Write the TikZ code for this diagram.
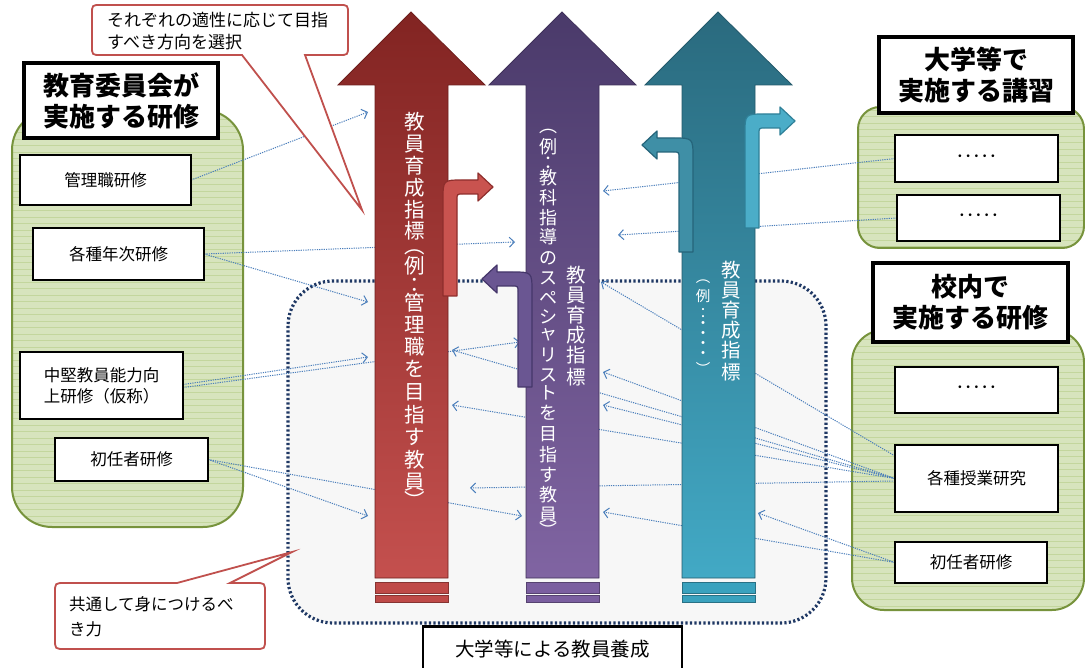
\documentclass[tikz,border=0pt]{standalone}
\usepackage{fontspec}
\setmainfont{Noto Sans CJK JP}
\usetikzlibrary{arrows.meta}
\definecolor{gfill}{HTML}{D7E4BD}
\definecolor{gline}{HTML}{C3D69D}
\definecolor{gborder}{HTML}{77933C}
\definecolor{cred}{HTML}{C0504D}
\definecolor{connc}{HTML}{4A7EBB}
\definecolor{dotb}{HTML}{1F3864}
\definecolor{rtop}{HTML}{822422}
\definecolor{rbot}{HTML}{C4504E}
\definecolor{rstr}{HTML}{BF4A48}
\definecolor{ptop}{HTML}{4A3A6A}
\definecolor{pbot}{HTML}{8064A2}
\definecolor{pstr}{HTML}{7B5FA0}
\definecolor{ttop}{HTML}{2A6A7E}
\definecolor{tbot}{HTML}{42A9C5}
\definecolor{tstr}{HTML}{3AA2BE}
\definecolor{bentred}{HTML}{C9534F}
\definecolor{bentredd}{HTML}{8E2E2C}
\definecolor{bentpur}{HTML}{6A5692}
\definecolor{bentpurd}{HTML}{45366A}
\definecolor{benttl}{HTML}{3F8FA6}
\definecolor{benttld}{HTML}{25647A}
\definecolor{benttr}{HTML}{4BADC8}
\definecolor{benttrd}{HTML}{2F8098}
\tikzset{
  ibox/.style={draw=black, line width=2pt, fill=white, inner sep=0pt, align=center,
    font=\fontsize{16.5}{21}\selectfont},
  tbox/.style={draw=black, line width=3.5pt, fill=white, inner sep=0pt, align=center,
    font=\bfseries\fontsize{26}{31}\selectfont},
  calloutline/.style={draw=cred, line width=1.8pt, fill=white, line join=miter},
  connl/.style={draw=connc, line width=1pt, dash pattern=on 1.2pt off 1.1pt,
    -{Straight Barb[length=5pt,width=10pt]}},
  vch/.style={text=white, inner sep=0pt},
  regionfill/.style={fill=black!3, rounded corners=45pt},
  regionline/.style={draw=dotb, line width=3.2pt, dash pattern=on 2.2pt off 2.3pt, rounded corners=45pt},
}
% green panel: x1 y1 x2 y2 radius
\newcommand\gpanel[5]{%
  \begin{scope}
    \clip[rounded corners=#5] (#1,#2) rectangle (#3,#4);
    \fill[gfill] (#1,#2) rectangle (#3,#4);
    \foreach \k in {0,...,66} \draw[gline, line width=0.7pt] (#1,{#2+3+\k*6.5}) -- (#3,{#2+3+\k*6.5});
  \end{scope}
  \draw[gborder, line width=2pt, rounded corners=#5] (#1,#2) rectangle (#3,#4);}
% big arrow: xl xr cx top bottom stripe
\newcommand\bigarr[6]{%
  \shadedraw[top color=#4, bottom color=#5, draw=#4!85!black, line width=0.8pt]
    (#1,578) -- (#1,85) -- ({#3-73},85) -- (#3,12) -- ({#3+74},85) -- (#2,85) -- (#2,578) -- cycle;
  \filldraw[fill=#6, draw=#6!70!black, line width=0.6pt] (#1,582.5) rectangle (#2,593);
  \filldraw[fill=#6, draw=#6!70!black, line width=0.6pt] (#1,595.5) rectangle (#2,602);}
% bent arrow to the right: cx yb yh xt fill draw
\newcommand\bentR[6]{%
  \filldraw[fill=#5, draw=#6, line width=1.2pt, line join=round]
    ({#1-7},#2) -- ({#1-7},{#3+13}) .. controls ({#1-7},{#3-7}) .. ({#1+13},{#3-7})
    -- ({#4-15},{#3-7}) -- ({#4-15},{#3-14}) -- (#4,#3) -- ({#4-15},{#3+14}) -- ({#4-15},{#3+7})
    -- ({#1+13},{#3+7}) .. controls ({#1+7},{#3+7}) .. ({#1+7},{#3+13}) -- ({#1+7},#2) -- cycle;}
% bent arrow to the left
\newcommand\bentL[6]{%
  \filldraw[fill=#5, draw=#6, line width=1.2pt, line join=round]
    ({#1+7},#2) -- ({#1+7},{#3+13}) .. controls ({#1+7},{#3-7}) .. ({#1-13},{#3-7})
    -- ({#4+15},{#3-7}) -- ({#4+15},{#3-14}) -- (#4,#3) -- ({#4+15},{#3+14}) -- ({#4+15},{#3+7})
    -- ({#1-13},{#3+7}) .. controls ({#1-7},{#3+7}) .. ({#1-7},{#3+13}) -- ({#1-7},#2) -- cycle;}
\begin{document}
\begin{tikzpicture}[x=1pt,y=-1pt]
\useasboundingbox (0,0) rectangle (1085,668);
\clip (0,0) rectangle (1085,668);
\fill[white] (0,0) rectangle (1085,668);

% green panels
\gpanel{12}{110}{243}{527}{40}
\gpanel{858}{107}{1084}{248}{22}
\gpanel{852}{330}{1084}{610}{32}

% common region
\fill[regionfill] (288,281) rectangle (826,623);
\draw[regionline] (288,281) rectangle (826,623);

% anchors of the boxes (the boxes are drawn on top further below)
\path (105.5,180) node[minimum width=171pt, minimum height=50pt, inner sep=0pt] (kanri) {};
\path (118.5,254) node[minimum width=171pt, minimum height=52pt, inner sep=0pt] (nenji) {};
\path (101.5,385.5) node[minimum width=163pt, minimum height=67pt, inner sep=0pt] (chuken) {};
\path (131.5,459.5) node[minimum width=153pt, minimum height=43pt, inner sep=0pt] (shonin) {};
\path (976.5,158.5) node[minimum width=163pt, minimum height=47pt, inner sep=0pt] (d1) {};
\path (978.5,218) node[minimum width=163pt, minimum height=46pt, inner sep=0pt] (d2) {};
\path (976.5,478.5) node[minimum width=163pt, minimum height=67pt, inner sep=0pt] (jugyo) {};
\path (971,562.5) node[minimum width=152pt, minimum height=41pt, inner sep=0pt] (shonin2) {};

% connector targets
\coordinate (t1) at (368,112);
\coordinate (t2) at (515,242);
\coordinate (t3) at (368,302);
\coordinate (t4) at (368,357);
\coordinate (t5) at (520,342);
\coordinate (t6) at (368,516);
\coordinate (t7) at (522,516);
\coordinate (u1) at (603,191);
\coordinate (u2) at (618,235);
\coordinate (u3) at (601,282);
\coordinate (u4) at (452,350);
\coordinate (u5) at (603,372);
\coordinate (u6) at (452,405);
\coordinate (u7) at (603,405);
\coordinate (u8) at (470,488);
\coordinate (u9) at (603,512);
\coordinate (u10) at (758,513);
\coordinate (js) at (895,456);
\coordinate (jh) at (895,481);

% connectors
\draw[connl] (kanri.east) -- (t1);
\draw[connl] (nenji.east) -- (t2);
\draw[connl] (nenji.east) -- (t3);
\draw[connl] ([yshift=1pt]chuken.east) -- (t4);
\draw[connl] ([yshift=-2pt]chuken.east) -- (t5);
\draw[connl] (shonin.east) -- (t6);
\draw[connl] (shonin.east) -- (t7);
\draw[connl] (d1.west) -- (u1);
\draw[connl] (d2.west) -- (u2);
\draw[connl] (js) -- (u3);
\draw[connl] (jugyo.west) -- (u4);
\draw[connl] (jugyo.west) -- (u5);
\draw[connl] (jugyo.west) -- (u6);
\draw[connl] (jugyo.west) -- (u7);
\draw[connl] (jh) -- (u8);
\draw[connl] (shonin2.west) -- (u9);
\draw[connl] (shonin2.west) -- (u10);

% big arrows
\bigarr{375}{448}{411}{rtop}{rbot}{rstr}
\bigarr{526}{599}{562}{ptop}{pbot}{pstr}
\bigarr{682}{755}{718}{ttop}{tbot}{tstr}

% bent arrows
\bentR{450}{296}{187}{493}{bentred}{bentredd}
\bentL{525}{387}{279}{482}{bentpur}{bentpurd}
\bentL{686}{252}{145}{642}{benttl}{benttld}
\bentR{752}{228}{121}{795}{benttr}{benttrd}

% vertical texts
\foreach \c/\y [count=\i] in {教/122,員/144,育/166,成/188,指/210,標/231,︵/252,例/266,：/285,管/303,理/325,職/347,を/369,目/392,指/415,す/437,教/460,員/482,︶/500}
  \node[vch, font=\fontsize{20.5}{20.5}\selectfont] (rv\i) at (415,\y) {\c};
\foreach \c/\y [count=\i] in {︵/132,例/147,：/163,教/178,科/198,指/218,導/237,の/258,ス/278,ペ/298,シ/317,ャ/335,リ/355,ス/375,ト/393,を/413,目/434,指/455,す/475,教/495,員/515,︶/530}
  \node[vch, font=\fontsize{18}{18}\selectfont] (pv\i) at (548,\y) {\c};
\foreach \c/\y [count=\i] in {教/275,員/295,育/315,成/335,指/355,標/377}
  \node[vch, font=\fontsize{19.5}{19.5}\selectfont] (pw\i) at (576,\y) {\c};
\foreach \c/\y [count=\i] in {教/270,員/290,育/310,成/330,指/350,標/372}
  \node[vch, font=\fontsize{19.5}{19.5}\selectfont] (tv\i) at (731,\y) {\c};
\foreach \c/\y [count=\i] in {︵/282,例/296,：/313,・/325,・/335,・/345,・/355,︶/368}
  \node[vch, font=\fontsize{14.5}{14.5}\selectfont] (tw\i) at (703,\y) {\c};

% boxes, left
\node[tbox, minimum width=194pt, minimum height=75pt] (ltitle) at (121,100.5) {教育委員会が\\実施する研修};
\node[ibox, minimum width=171pt, minimum height=50pt] (kanrib) at (kanri) {管理職研修};
\node[ibox, minimum width=171pt, minimum height=52pt] (nenjib) at (nenji) {各種年次研修};
\node[ibox, minimum width=163pt, minimum height=67pt] (chukenb) at (chuken) {中堅教員能力向\\上研修（仮称）};
\node[ibox, minimum width=153pt, minimum height=43pt] (shoninb) at (shonin) {初任者研修};

% boxes, right
\node[tbox, minimum width=194pt, minimum height=76pt] (rtitle1) at (976,75) {大学等で\\実施する講習};
\node[ibox, minimum width=163pt, minimum height=47pt] (d1b) at (d1) {･････};
\node[ibox, minimum width=163pt, minimum height=46pt] (d2b) at (d2) {･････};
\node[tbox, minimum width=195pt, minimum height=79pt] (rtitle2) at (970.5,302.5) {校内で\\実施する研修};
\node[ibox, minimum width=163pt, minimum height=46pt] (d3b) at (976.5,390) {･････};
\node[ibox, minimum width=163pt, minimum height=67pt] (jugyob) at (jugyo) {各種授業研究};
\node[ibox, minimum width=152pt, minimum height=41pt] (shonin2b) at (shonin2) {初任者研修};

% bottom box
\node[ibox, line width=2.5pt, minimum width=259pt, minimum height=46pt,
  font=\fontsize{19.5}{22}\selectfont, anchor=north] (yousei) at (552.5,625) {大学等による教員養成};

% callouts
\coordinate (tctip) at (362,210);
\path[calloutline] (101,5) -- (339,5) .. controls (348,5) .. (348,14) -- (348,46)
  .. controls (348,55) .. (339,55) -- (305,55) -- (tctip) -- (242,55) -- (101,55)
  .. controls (92,55) .. (92,46) -- (92,14) .. controls (92,5) .. (101,5) -- cycle;
\node[align=left, anchor=west, inner sep=0pt, font=\fontsize{17}{22}\selectfont] (tct) at (107,31)
  {それぞれの適性に応じて目指\\すべき方向を選択};

\coordinate (bctip) at (292,552);
\path[calloutline] (65,583) -- (177,583) -- (bctip) -- (230,583) -- (255,583)
  .. controls (265,583) .. (265,593) -- (265,639) .. controls (265,649) .. (255,649)
  -- (65,649) .. controls (55,649) .. (55,639) -- (55,593) .. controls (55,583) .. (65,583) -- cycle;
\node[align=left, anchor=west, inner sep=0pt, font=\fontsize{16.5}{25}\selectfont] (bct) at (69,617)
  {共通して身につけるべ\\き力};
\end{tikzpicture}
\end{document}
